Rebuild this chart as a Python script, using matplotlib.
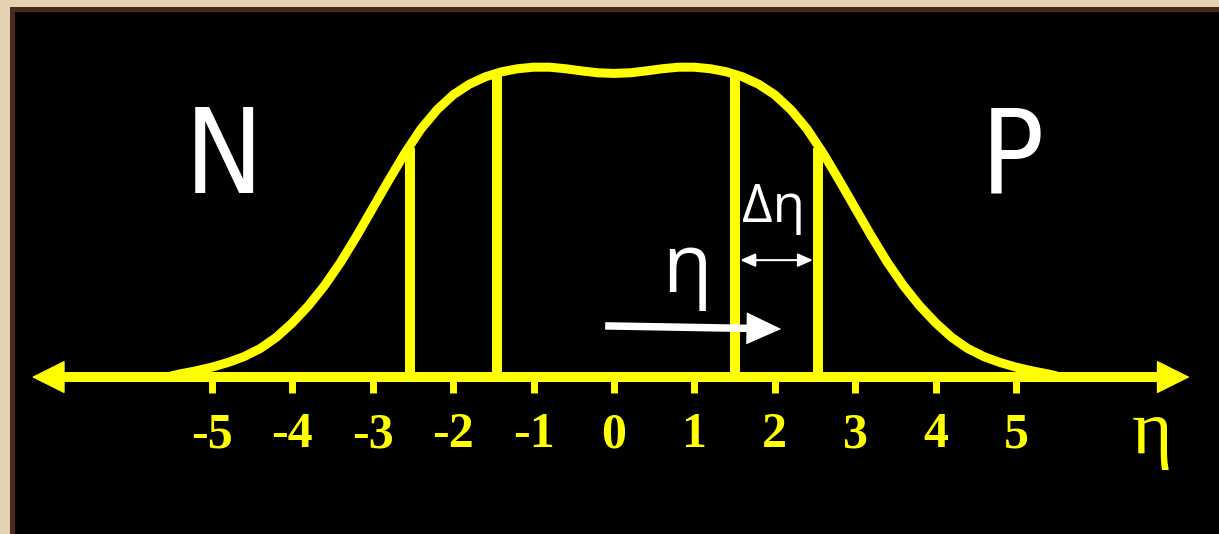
import matplotlib
matplotlib.use("Agg")
import matplotlib.pyplot as plt
from matplotlib.patches import Rectangle

# Pseudorapidity axis and the rapidity-density curve dN/deta (relative units)
tick_values = [-5, -4, -3, -2, -1, 0, 1, 2, 3, 4, 5]
tick_labels = ["-5", "-4", "-3", "-2", "-1", "0", "1", "2", "3", "4", "5"]

eta_samples = [-5.5, -5.4, -5.2, -5.0, -4.8, -4.6, -4.4, -4.2, -4.0, -3.8, -3.6,
               -3.4, -3.2, -3.0, -2.8, -2.6, -2.4, -2.2, -2.0, -1.8, -1.6,
               -1.4, -1.2, -1.0, -0.8, -0.6, -0.4, -0.2, 0.0, 0.2, 0.4, 0.6,
               0.8, 1.0, 1.2, 1.4, 1.6, 1.8, 2.0, 2.2, 2.4, 2.6, 2.8, 3.0,
               3.2, 3.4, 3.6, 3.8, 4.0, 4.2, 4.4, 4.6, 4.8, 5.0, 5.2, 5.4, 5.5]
density = [0.004, 0.010, 0.020, 0.032, 0.047, 0.066, 0.092, 0.128, 0.175,
           0.230, 0.295, 0.370, 0.455, 0.545, 0.635, 0.722, 0.800, 0.862,
           0.910, 0.944, 0.968, 0.984, 0.994, 0.999, 0.999, 0.994, 0.987,
           0.981, 0.979, 0.981, 0.987, 0.994, 0.999, 0.999, 0.994, 0.984,
           0.968, 0.944, 0.910, 0.862, 0.800, 0.722, 0.635, 0.545, 0.455,
           0.370, 0.295, 0.230, 0.175, 0.128, 0.092, 0.066, 0.047, 0.032,
           0.020, 0.010, 0.004]

# Bin edges of the eta slice and the density reached at each edge
bin_edges = [-2.54, -1.45, 1.505, 2.54]
edge_heights = [0.74, 0.975, 0.975, 0.74]

# Extent of the drawn number line (arrow tips)
axis_min, axis_max = -7.24, 7.16

YELLOW = "#ffff00"
WHITE = "#ffffff"
BOARD = "#000000"
FRAME = "#4a2a1f"
PAPER = "#e4d3b1"

fig = plt.figure(figsize=(12.19, 5.34), dpi=100)
fig.patch.set_facecolor(PAPER)

# Wooden frame behind the board
fig.patches.append(Rectangle((10 / 1219, 0), 1 - 10 / 1219, 527 / 534,
                             transform=fig.transFigure, facecolor=FRAME,
                             edgecolor="none", zorder=-10))

ax = fig.add_axes([15 / 1219, 0, 1 - 15 / 1219, 522 / 534])
ax.set_zorder(1)
ax.set_facecolor(BOARD)
ax.set_xlim(-7.450, 7.525)
ax.set_ylim(-0.506, 1.177)

# Number line: bottom spine moved to y = 0, with ticks below it
for side in ("top", "right", "left"):
    ax.spines[side].set_visible(False)
ax.spines["bottom"].set_position(("data", 0))
ax.spines["bottom"].set_bounds(axis_min + 0.3, axis_max - 0.3)
ax.spines["bottom"].set_color(YELLOW)
ax.spines["bottom"].set_linewidth(7.2)
ax.spines["bottom"].set_capstyle("butt")
ax.set_yticks([])
ax.set_xticks(tick_values)
ax.set_xticklabels(tick_labels, fontfamily="Liberation Serif",
                   fontweight="bold", fontsize=36, color=YELLOW)
ax.tick_params(axis="x", direction="out", length=11.5, width=5,
               color=YELLOW, pad=14)

ax.annotate("", xy=(axis_max, 0), xytext=(axis_min, 0),
            arrowprops=dict(arrowstyle="<|-|>,head_length=22,head_width=11",
                            mutation_scale=1, lw=1, color=YELLOW,
                            shrinkA=0, shrinkB=0), zorder=5)

# Slice boundaries and the density curve
ax.vlines(bin_edges, 0, edge_heights, colors=YELLOW, lw=7.2, zorder=3)
ax.plot(eta_samples, density, color=YELLOW, lw=6.5,
        solid_joinstyle="round", solid_capstyle="round", zorder=4)

# Labels on the board
ax.text(-4.85, 0.697, "N", color=WHITE, fontsize=84, fontfamily="DejaVu Sans",
        fontstretch="condensed", ha="center", va="center")
ax.text(4.96, 0.697, "P", color=WHITE, fontsize=84, fontfamily="DejaVu Sans",
        fontstretch="condensed", ha="center", va="center")
ax.text(1.98, 0.545, "Δη", color=WHITE, fontsize=38, fontfamily="Open Sans",
        ha="center", va="center")
ax.text(0.91, 0.274, "η", color=WHITE, fontsize=58, fontfamily="Open Sans",
        ha="center", va="baseline")
ax.text(6.69, -0.245, "η", color=YELLOW, fontsize=56,
        fontfamily="Liberation Serif", ha="center", va="baseline")

# Width of the slice
ax.annotate("", xy=(bin_edges[3] - 0.065, 0.377),
            xytext=(bin_edges[2] + 0.065, 0.377),
            arrowprops=dict(arrowstyle="<|-|>,head_length=9,head_width=4",
                            mutation_scale=1, lw=1.5, color=WHITE,
                            shrinkA=0, shrinkB=0))

# Direction of increasing eta
ax.annotate("", xy=(2.08, 0.155), xytext=(-0.11, 0.165),
            arrowprops=dict(arrowstyle="simple,head_length=25,head_width=23,tail_width=5.4",
                            mutation_scale=1, lw=0, color=WHITE,
                            shrinkA=0, shrinkB=0))

fig.savefig("out.png", dpi=100, facecolor=fig.get_facecolor())
